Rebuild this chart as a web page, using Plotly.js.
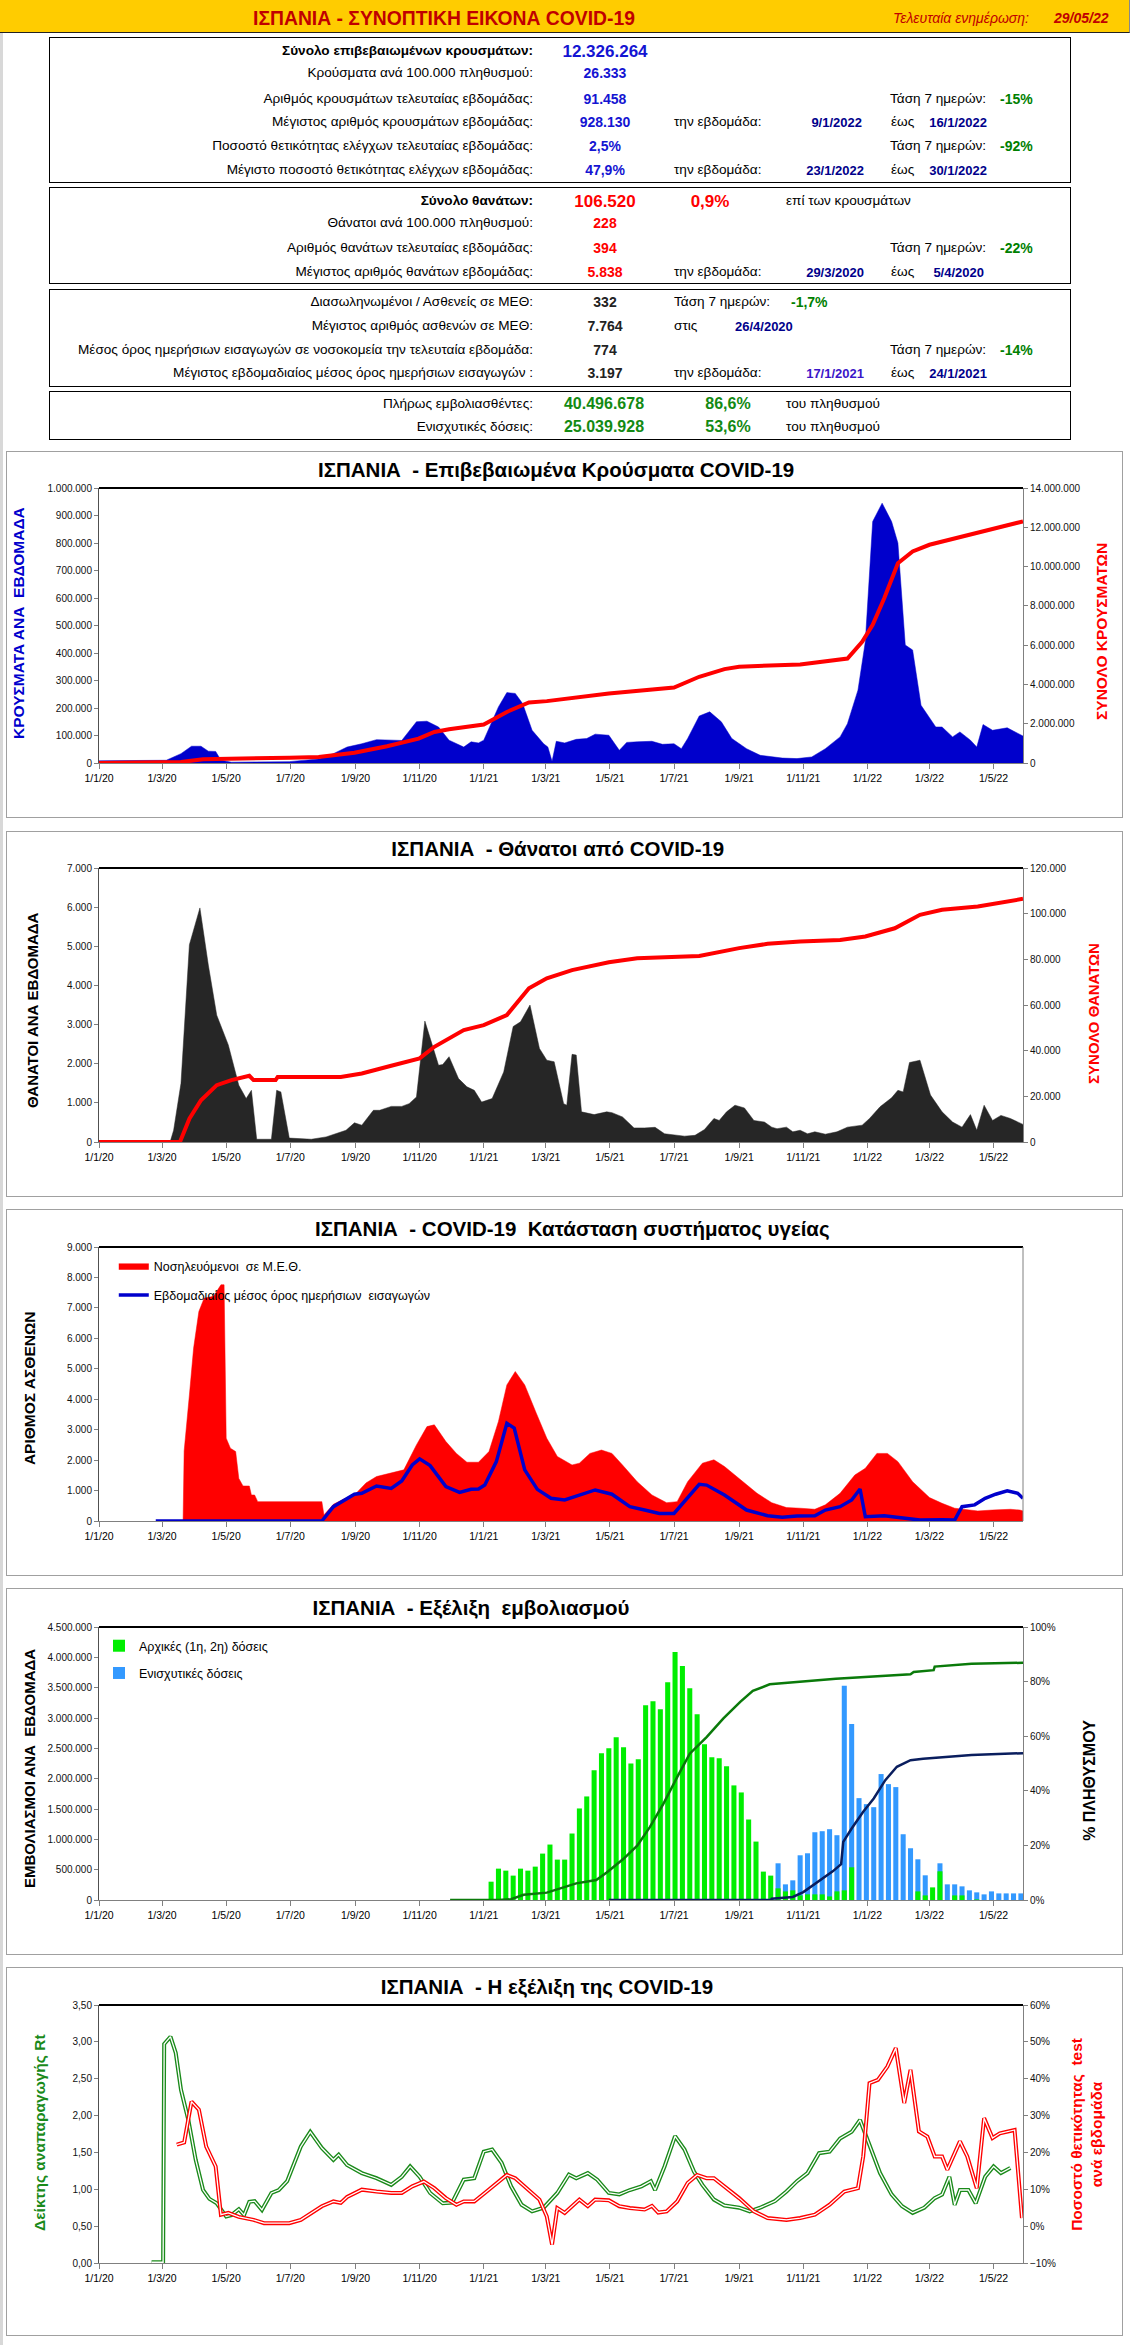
<!DOCTYPE html>
<html><head><meta charset="utf-8">
<script src="https://cdn.plot.ly/plotly-3.0.1.min.js"></script>
<style>
body{margin:0;width:1133px;height:2345px;background:#fff;position:relative;overflow:hidden;font-family:'Liberation Sans',Arial,sans-serif;}
.box{position:absolute;left:49px;width:1022px;border:1.5px solid #000;box-sizing:border-box;}
.t{position:absolute;white-space:nowrap;font-size:13.6px;line-height:1;color:#000;}
</style></head>
<body>
<div style="position:absolute;left:0;top:0;width:3px;height:2345px;background:#d8d8d8;"></div>
<div style="position:absolute;left:0;top:0;width:1129px;height:32px;background:#FFCC00;border-bottom:1.5px solid #222;border-right:1.5px solid #888;"></div>
<div class="box" style="top:37px;height:146px;"></div>
<div class="box" style="top:187px;height:97px;"></div>
<div class="box" style="top:289px;height:98px;"></div>
<div class="box" style="top:391px;height:49px;"></div>
<script>
// ---------------- DATA ----------------
// Chart 1: weekly confirmed cases (area) and cumulative cases (line)
const casesWeekDates=['2020-01-01','2020-03-05','2020-03-19','2020-03-29','2020-04-07','2020-04-14','2020-04-21','2020-04-26','2020-05-06','2020-06-30','2020-07-28','2020-08-11','2020-08-24','2020-09-07','2020-09-21','2020-10-05','2020-10-15','2020-10-29','2020-11-08','2020-11-19','2020-11-29','2020-12-13','2020-12-20','2020-12-27','2021-01-01','2021-01-15','2021-01-23','2021-01-31','2021-02-07','2021-02-16','2021-02-27','2021-03-03','2021-03-07','2021-03-11','2021-03-19','2021-03-30','2021-04-09','2021-04-17','2021-04-30','2021-05-10','2021-05-17','2021-05-27','2021-06-10','2021-06-20','2021-07-01','2021-07-08','2021-07-14','2021-07-25','2021-08-04','2021-08-15','2021-08-25','2021-09-08','2021-09-21','2021-10-12','2021-10-26','2021-11-09','2021-11-22','2021-12-06','2021-12-13','2021-12-23','2021-12-30','2022-01-06','2022-01-15','2022-01-24','2022-01-30','2022-02-06','2022-02-13','2022-02-21','2022-03-01','2022-03-07','2022-03-13','2022-03-23','2022-03-30','2022-04-09','2022-04-15','2022-04-21','2022-04-30','2022-05-14','2022-05-29'];
const casesWeek=[8000,10000,34000,61000,61000,43000,42000,10000,3000,5000,15000,34000,58000,70000,85000,82000,82000,150000,152000,131000,83000,58000,77000,73000,83000,204000,256000,253000,216000,119000,70000,58000,6000,79000,73000,86000,89000,105000,101000,46000,75000,77000,79000,68000,70000,52000,89000,171000,186000,150000,89000,52000,28000,18000,16000,22000,52000,95000,143000,265000,441000,878000,945000,878000,800000,429000,411000,210000,162000,131000,131000,95000,113000,83000,58000,140000,119000,128000,98000];
const casesTotalDates=['2020-01-01','2020-03-12','2020-03-19','2020-04-09','2020-04-29','2020-06-30','2020-07-28','2020-08-31','2020-10-01','2020-10-31','2020-11-15','2020-11-29','2021-01-01','2021-01-23','2021-02-13','2021-03-02','2021-04-30','2021-07-01','2021-07-25','2021-08-18','2021-09-01','2021-10-29','2021-12-13','2021-12-27','2022-01-06','2022-01-17','2022-01-30','2022-02-13','2022-03-01','2022-04-02','2022-04-30','2022-05-29'];
const casesTotal=[0,5000,50000,190000,221000,272000,306000,527000,850000,1240000,1580000,1720000,1960000,2600000,3080000,3150000,3540000,3840000,4390000,4780000,4900000,5020000,5320000,6170000,7030000,8390000,10170000,10770000,11110000,11530000,11870000,12300000];

// Chart 2: weekly deaths (area) and cumulative deaths (line)
const deathsWeekDates=['2020-01-01','2020-03-09','2020-03-12','2020-03-19','2020-03-27','2020-04-06','2020-04-14','2020-04-22','2020-05-03','2020-05-13','2020-05-20','2020-05-25','2020-05-30','2020-06-13','2020-06-18','2020-06-22','2020-06-30','2020-07-21','2020-08-04','2020-08-14','2020-08-23','2020-08-31','2020-09-07','2020-09-18','2020-09-24','2020-10-05','2020-10-15','2020-10-22','2020-10-29','2020-11-06','2020-11-12','2020-11-19','2020-11-23','2020-11-29','2020-12-08','2020-12-16','2020-12-23','2020-12-30','2021-01-09','2021-01-20','2021-01-29','2021-02-05','2021-02-14','2021-02-23','2021-03-02','2021-03-09','2021-03-18','2021-03-21','2021-03-26','2021-03-30','2021-04-04','2021-04-16','2021-04-28','2021-05-03','2021-05-13','2021-05-24','2021-06-03','2021-06-13','2021-06-22','2021-07-01','2021-07-11','2021-07-21','2021-07-30','2021-08-08','2021-08-13','2021-08-20','2021-08-28','2021-09-06','2021-09-15','2021-09-25','2021-10-02','2021-10-07','2021-10-16','2021-10-22','2021-10-29','2021-11-05','2021-11-12','2021-11-22','2021-12-03','2021-12-13','2021-12-27','2022-01-03','2022-01-13','2022-01-24','2022-01-30','2022-02-04','2022-02-10','2022-02-20','2022-03-02','2022-03-13','2022-03-23','2022-04-01','2022-04-09','2022-04-15','2022-04-22','2022-04-30','2022-05-08','2022-05-17','2022-05-29'];
const deathsWeek=[30,30,300,1500,5040,5980,4520,3240,2480,1450,1110,1320,70,70,1320,1280,100,70,130,210,300,490,430,810,810,910,910,980,1150,3090,2560,1960,1980,2180,1620,1410,1320,1020,1110,1790,2950,3070,3500,2390,2090,2050,980,940,2240,2220,770,700,770,750,640,360,360,375,210,190,150,170,320,600,550,770,940,870,550,510,380,340,380,260,300,210,260,200,260,380,430,600,900,1130,1320,1280,2030,2090,1200,770,510,380,700,300,940,550,680,600,450];
const deathsTotalDates=['2020-01-01','2020-03-18','2020-03-27','2020-04-07','2020-04-22','2020-05-06','2020-05-23','2020-05-27','2020-06-17','2020-06-19','2020-08-18','2020-09-07','2020-10-05','2020-11-01','2020-11-15','2020-12-13','2021-01-01','2021-01-23','2021-02-13','2021-03-02','2021-03-26','2021-04-30','2021-05-27','2021-07-01','2021-07-25','2021-09-01','2021-09-28','2021-10-29','2021-12-06','2021-12-30','2022-01-27','2022-02-20','2022-03-13','2022-04-16','2022-05-29'];
const deathsTotal=[0,0,10200,18300,24900,27100,29000,27100,27100,28500,28500,30000,33400,36600,41700,49000,51200,55600,67300,71700,75300,78700,80500,81000,81500,84900,86800,87800,88500,90000,93600,99500,101700,103100,106500];

// Chart 3: ICU patients (red) and weekly avg of daily admissions (blue)
const icuDates=['2020-03-21','2020-03-22','2020-03-27','2020-03-31','2020-04-05','2020-04-10','2020-04-19','2020-04-26','2020-04-29','2020-05-01','2020-05-05','2020-05-10','2020-05-13','2020-05-17','2020-05-23','2020-05-25','2020-05-28','2020-05-31','2020-07-31','2020-08-02','2020-08-11','2020-08-21','2020-08-31','2020-09-11','2020-09-21','2020-10-08','2020-10-17','2020-10-29','2020-11-08','2020-11-15','2020-11-26','2020-12-06','2020-12-16','2020-12-27','2021-01-06','2021-01-15','2021-01-23','2021-01-31','2021-02-09','2021-02-20','2021-03-02','2021-03-12','2021-03-26','2021-04-02','2021-04-12','2021-04-23','2021-05-03','2021-05-13','2021-05-27','2021-06-10','2021-06-24','2021-07-04','2021-07-14','2021-07-28','2021-08-08','2021-08-18','2021-09-01','2021-09-18','2021-10-02','2021-10-16','2021-10-29','2021-11-12','2021-11-22','2021-12-06','2021-12-20','2021-12-30','2022-01-10','2022-01-20','2022-01-30','2022-02-13','2022-03-01','2022-03-13','2022-03-25','2022-04-06','2022-04-16','2022-04-30','2022-05-17','2022-05-26','2022-05-29'];
const icuPatients=[0,2300,4140,5680,6880,7320,7380,7760,7760,2720,2390,2280,1400,1150,1150,855,855,636,636,200,550,720,855,1250,1460,1590,1680,2500,3100,3160,2610,2220,1930,1930,2280,3270,4470,4910,4470,3540,2720,2120,1840,1900,2220,2330,2220,1840,1290,855,600,636,1290,1900,2010,1790,1400,910,600,440,420,385,530,910,1510,1730,2220,2220,1950,1290,770,580,420,360,330,360,385,360,332];
const admDates=['2020-02-24','2020-07-31','2020-08-11','2020-08-21','2020-08-31','2020-09-07','2020-09-21','2020-10-05','2020-10-15','2020-10-25','2020-11-01','2020-11-11','2020-11-26','2020-12-09','2020-12-20','2020-12-27','2021-01-02','2021-01-13','2021-01-23','2021-01-30','2021-02-09','2021-02-21','2021-03-06','2021-03-19','2021-04-02','2021-04-17','2021-05-03','2021-05-20','2021-06-03','2021-06-17','2021-07-01','2021-07-11','2021-07-25','2021-08-01','2021-08-18','2021-09-08','2021-09-28','2021-10-12','2021-10-26','2021-11-12','2021-11-22','2021-12-06','2021-12-17','2021-12-25','2021-12-30','2022-01-17','2022-02-06','2022-02-20','2022-03-13','2022-03-25','2022-04-01','2022-04-13','2022-04-23','2022-05-03','2022-05-14','2022-05-24','2022-05-29'];
const admAvg=[0,0,470,690,880,910,1150,1070,1315,1840,2040,1820,1130,940,1040,1050,1180,1950,3210,3050,1680,1040,745,690,855,1020,880,470,360,250,250,636,1205,1180,855,360,175,120,165,175,360,470,690,1050,140,175,90,30,40,30,470,530,745,880,990,910,745];

// Chart 4: weekly vaccinations (initial / booster) and cumulative % of population
const vaxWeeks=['2021-01-08','2021-01-15','2021-01-22','2021-01-29','2021-02-05','2021-02-12','2021-02-19','2021-02-26','2021-03-05','2021-03-12','2021-03-19','2021-03-26','2021-04-02','2021-04-09','2021-04-16','2021-04-23','2021-04-30','2021-05-07','2021-05-14','2021-05-21','2021-05-28','2021-06-04','2021-06-11','2021-06-18','2021-06-25','2021-07-02','2021-07-09','2021-07-16','2021-07-23','2021-07-30','2021-08-06','2021-08-13','2021-08-20','2021-08-27','2021-09-03','2021-09-10','2021-09-17','2021-09-24','2021-10-01','2021-10-08','2021-10-15','2021-10-22','2021-10-29','2021-11-05','2021-11-12','2021-11-19','2021-11-26','2021-12-03','2021-12-10','2021-12-17','2021-12-24','2021-12-31','2022-01-07','2022-01-14','2022-01-21','2022-01-28','2022-02-04','2022-02-11','2022-02-18','2022-02-25','2022-03-04','2022-03-11','2022-03-18','2022-03-25','2022-04-01','2022-04-08','2022-04-15','2022-04-22','2022-04-29','2022-05-06','2022-05-13','2022-05-20','2022-05-27'];
const vaxInitial=[302000,517000,484000,402000,517000,484000,550000,765000,914000,666000,666000,1096000,1509000,1707000,2137000,2418000,2500000,2682000,2517000,2252000,2319000,3211000,3277000,3145000,3591000,4087000,3856000,3492000,3062000,2566000,2352000,2335000,2203000,1889000,1773000,1327000,963000,468000,402000,192000,142000,159000,76000,93000,93000,93000,59000,142000,159000,539000,0,0,0,0,0,0,0,0,142000,76000,208000,473000,0,76000,76000,0,10000,0,0,0,0,0,0];
const vaxBooster=[0,0,0,0,0,0,0,0,0,0,0,0,0,0,0,0,0,0,0,0,0,0,0,0,0,0,0,0,0,0,0,0,0,0,0,0,0,0,0,605000,258000,324000,737000,770000,1117000,1134000,1167000,1068000,3530000,2902000,1679000,1580000,1530000,2076000,1910000,1861000,1084000,853000,671000,407000,0,605000,258000,258000,225000,159000,126000,93000,142000,109000,109000,109000,109000];
const fullPctDates=['2020-11-30','2021-01-15','2021-01-27','2021-02-08','2021-03-02','2021-03-17','2021-03-30','2021-04-18','2021-04-28','2021-05-14','2021-05-27','2021-06-08','2021-06-21','2021-07-04','2021-07-16','2021-08-01','2021-08-17','2021-09-02','2021-09-14','2021-09-30','2021-10-10','2021-12-02','2022-02-11','2022-02-14','2022-03-05','2022-03-06','2022-04-10','2022-05-29'];
const fullPct=[0,0,0.3,1.9,2.7,4.4,6.1,7.3,10.1,15.1,19.9,26.7,35.3,45.0,53.6,59.7,66.5,72.6,76.6,79.0,79.3,81.0,82.7,83.5,84.2,85.5,86.5,86.9];
const boostPctDates=['2021-04-30','2021-10-01','2021-10-02','2021-10-22','2021-11-01','2021-11-17','2021-11-29','2021-12-07','2021-12-09','2021-12-17','2021-12-28','2022-01-07','2022-01-18','2022-01-29','2022-02-11','2022-02-23','2022-04-10','2022-05-29'];
const boostPct=[0,0,0.5,1.1,2.9,7.2,10.5,13.1,21.3,26.2,32.3,37.2,43.9,48.8,51.2,51.7,53.1,53.8];

// Chart 5: reproduction number Rt and weekly test positivity %
const rtDates=['2020-02-20','2020-03-02','2020-03-03','2020-03-09','2020-03-14','2020-03-19','2020-03-26','2020-04-02','2020-04-09','2020-04-15','2020-04-22','2020-05-01','2020-05-06','2020-05-13','2020-05-18','2020-05-23','2020-05-28','2020-06-04','2020-06-13','2020-06-20','2020-06-28','2020-07-04','2020-07-11','2020-07-20','2020-07-26','2020-07-31','2020-08-11','2020-08-16','2020-08-24','2020-09-07','2020-09-21','2020-10-05','2020-10-15','2020-10-23','2020-11-01','2020-11-11','2020-11-23','2020-12-02','2020-12-13','2020-12-23','2021-01-01','2021-01-09','2021-01-18','2021-01-27','2021-02-06','2021-02-16','2021-02-27','2021-03-12','2021-03-23','2021-03-30','2021-04-10','2021-04-19','2021-04-30','2021-05-10','2021-05-20','2021-05-31','2021-06-09','2021-06-13','2021-06-22','2021-07-02','2021-07-11','2021-07-20','2021-07-28','2021-08-08','2021-08-18','2021-09-01','2021-09-11','2021-09-21','2021-10-05','2021-10-16','2021-10-26','2021-11-05','2021-11-16','2021-11-26','2021-12-06','2021-12-17','2021-12-25','2022-01-03','2022-01-13','2022-01-24','2022-02-03','2022-02-13','2022-02-24','2022-03-06','2022-03-13','2022-03-20','2022-03-25','2022-03-30','2022-04-07','2022-04-14','2022-04-23','2022-05-01','2022-05-08','2022-05-17'];
const rtValues=[0.01,0.01,2.97,3.07,2.85,2.35,1.94,1.40,0.99,0.87,0.81,0.63,0.65,0.73,0.65,0.83,0.84,0.72,0.95,0.99,1.11,1.33,1.58,1.78,1.65,1.56,1.40,1.47,1.33,1.22,1.15,1.06,1.17,1.31,1.17,0.95,0.81,0.82,1.13,1.15,1.51,1.54,1.36,1.04,0.79,0.70,0.75,0.95,1.20,1.15,1.22,1.13,0.95,0.93,0.99,1.04,1.11,0.99,1.31,1.72,1.54,1.24,1.06,0.86,0.78,0.75,0.70,0.75,0.84,0.97,1.11,1.22,1.49,1.51,1.69,1.78,1.94,1.60,1.22,0.93,0.77,0.68,0.75,0.88,0.93,1.17,0.79,0.99,0.99,0.81,1.17,1.31,1.22,1.29];
const posDates=['2020-03-15','2020-03-22','2020-03-29','2020-04-05','2020-04-12','2020-04-21','2020-04-26','2020-05-03','2020-05-13','2020-05-27','2020-06-06','2020-06-30','2020-07-11','2020-07-21','2020-07-31','2020-08-11','2020-08-18','2020-08-24','2020-09-07','2020-09-21','2020-10-05','2020-10-15','2020-10-25','2020-11-05','2020-11-15','2020-11-26','2020-12-06','2020-12-13','2020-12-23','2021-01-02','2021-01-13','2021-01-23','2021-01-31','2021-02-09','2021-02-16','2021-02-23','2021-03-02','2021-03-07','2021-03-12','2021-03-19','2021-04-02','2021-04-10','2021-04-17','2021-04-30','2021-05-10','2021-05-20','2021-06-03','2021-06-10','2021-06-16','2021-06-24','2021-07-04','2021-07-14','2021-07-23','2021-08-01','2021-08-08','2021-08-18','2021-09-01','2021-09-15','2021-09-28','2021-10-16','2021-10-29','2021-11-12','2021-11-26','2021-12-10','2021-12-23','2021-12-28','2022-01-03','2022-01-11','2022-01-20','2022-01-28','2022-02-05','2022-02-11','2022-02-19','2022-02-27','2022-03-06','2022-03-13','2022-03-18','2022-03-30','2022-04-06','2022-04-15','2022-04-22','2022-04-30','2022-05-07','2022-05-21','2022-05-28'];
const posPct=[22.1,22.7,33.8,31.6,21.6,16.2,3.1,3.6,2.5,1.7,0.8,0.8,1.7,3.6,5.4,6.7,6.3,7.9,9.9,9.4,9.0,9.0,10.8,12.1,10.3,7.6,5.8,6.7,6.7,9.0,11.7,13.9,13.0,10.8,9.0,7.2,2.6,-5.0,4.9,3.6,7.2,5.4,7.2,7.0,5.4,4.9,4.5,5.5,3.7,4.0,6.7,11.7,13.9,13.0,13.0,10.8,7.6,4.0,2.2,1.7,2.2,3.1,5.8,9.4,10.3,18.9,38.8,39.7,43.3,48.3,33.4,42.4,25.7,24.3,18.9,18.9,15.3,23.0,18.9,10.3,29.3,23.9,25.2,26.1,2.2];

// ---------------- HEADER TEXT ----------------
function T(x,y,txt,al,st,sx){
  const s=document.createElement('div');
  s.className='t'; s.textContent=txt;
  if(st) s.style.cssText=st;
  s.style.top=y+'px';
  const sc=sx?' scaleX('+sx+')':'';
  if(al==='r'){s.style.right=(1133-x)+'px';s.style.transform='translateY(-50%)'+sc;s.style.transformOrigin='right center';}
  else if(al==='c'){s.style.left=x+'px';s.style.transform='translate(-50%,-50%)'+sc;}
  else {s.style.left=x+'px';s.style.transform='translateY(-50%)'+sc;s.style.transformOrigin='left center';}
  document.body.appendChild(s);
}
T(444,17,'ΙΣΠΑΝΙΑ - ΣΥΝΟΠΤΙΚΗ ΕΙΚΟΝΑ COVID-19','c','font-weight:bold;font-size:21px;color:#C00000;',0.92);
T(893,18,'Τελευταία ενημέρωση:','l','font-style:italic;font-size:14px;color:#C00000;');
T(1054,18,'29/05/22','l','font-style:italic;font-weight:bold;font-size:14px;color:#C00000;');
const BL='font-weight:bold;font-size:14px;color:#1414d2;';
const NV='font-weight:bold;font-size:13px;color:#00008b;';
const GR='font-weight:bold;font-size:14px;color:#008000;';
const RD='font-weight:bold;font-size:14px;color:#ff0000;';
const DK='font-weight:bold;font-size:14px;color:#222;';
const BOLD='font-weight:bold;';
// box 1
T(533,51,'Σύνολο επιβεβαιωμένων κρουσμάτων:','r',BOLD);
T(605,51,'12.326.264','c','font-weight:bold;font-size:17px;color:#1414d2;');
T(533,73,'Κρούσματα ανά 100.000 πληθυσμού:','r');
T(605,73,'26.333','c',BL);
T(533,99,'Αριθμός κρουσμάτων τελευταίας εβδομάδας:','r');
T(605,99,'91.458','c',BL);
T(890,99,'Τάση 7 ημερών:','l');
T(1000,99,'-15%','l',GR);
T(533,122,'Μέγιστος αριθμός κρουσμάτων εβδομάδας:','r');
T(605,122,'928.130','c',BL);
T(674,122,'την εβδομάδα:','l');
T(862,122,'9/1/2022','r',NV);
T(891,122,'έως','l');
T(987,122,'16/1/2022','r',NV);
T(533,146,'Ποσοστό θετικότητας ελέγχων τελευταίας εβδομάδας:','r');
T(605,146,'2,5%','c',BL);
T(890,146,'Τάση 7 ημερών:','l');
T(1000,146,'-92%','l',GR);
T(533,170,'Μέγιστο ποσοστό θετικότητας ελέγχων  εβδομάδας:','r');
T(605,170,'47,9%','c',BL);
T(674,170,'την εβδομάδα:','l');
T(864,170,'23/1/2022','r',NV);
T(891,170,'έως','l');
T(987,170,'30/1/2022','r',NV);
// box 2
T(533,201,'Σύνολο θανάτων:','r',BOLD);
T(605,201,'106.520','c','font-weight:bold;font-size:17px;color:#ff0000;');
T(710,201,'0,9%','c','font-weight:bold;font-size:17px;color:#ff0000;');
T(786,201,'επί των κρουσμάτων','l');
T(533,223,'Θάνατοι ανά 100.000 πληθυσμού:','r');
T(605,223,'228','c',RD);
T(533,248,'Αριθμός θανάτων τελευταίας εβδομάδας:','r');
T(605,248,'394','c',RD);
T(890,248,'Τάση 7 ημερών:','l');
T(1000,248,'-22%','l',GR);
T(533,272,'Μέγιστος αριθμός θανάτων εβδομάδας:','r');
T(605,272,'5.838','c',RD);
T(674,272,'την εβδομάδα:','l');
T(864,272,'29/3/2020','r',NV);
T(891,272,'έως','l');
T(984,272,'5/4/2020','r',NV);
// box 3
T(533,302,'Διασωληνωμένοι / Ασθενείς σε ΜΕΘ:','r');
T(605,302,'332','c',DK);
T(674,302,'Τάση 7 ημερών:','l');
T(791,302,'-1,7%','l',GR);
T(533,326,'Μέγιστος αριθμός ασθενών σε ΜΕΘ:','r');
T(605,326,'7.764','c',DK);
T(674,326,'στις','l');
T(735,326,'26/4/2020','l',NV);
T(533,350,'Μέσος όρος ημερήσιων εισαγωγών σε νοσοκομεία την τελευταία εβδομάδα:','r');
T(605,350,'774','c',DK);
T(890,350,'Τάση 7 ημερών:','l');
T(1000,350,'-14%','l',GR);
T(533,373,'Μέγιστος εβδομαδιαίος μέσος όρος ημερήσιων εισαγωγών :','r');
T(605,373,'3.197','c',DK);
T(674,373,'την εβδομάδα:','l');
T(864,373,'17/1/2021','r','font-weight:bold;font-size:13px;color:#3a16c8;');
T(891,373,'έως','l');
T(987,373,'24/1/2021','r',NV);
// box 4
T(533,404,'Πλήρως εμβολιασθέντες:','r');
T(604,404,'40.496.678','c','font-weight:bold;font-size:16px;color:#138a13;');
T(728,404,'86,6%','c','font-weight:bold;font-size:16px;color:#138a13;');
T(786,404,'του πληθυσμού','l');
T(533,427,'Ενισχυτικές δόσεις:','r');
T(604,427,'25.039.928','c','font-weight:bold;font-size:16px;color:#138a13;');
T(728,427,'53,6%','c','font-weight:bold;font-size:16px;color:#138a13;');
T(786,427,'του πληθυσμού','l');

// ---------------- CHARTS ----------------
const BASEF='Liberation Sans, Arial, sans-serif';
function xAxis(){
  return {type:'date',range:['2020-01-01','2022-05-29'],tick0:'2020-01-01',dtick:'M2',tickformat:'%-d/%-m/%y',
    ticks:'outside',ticklen:5,tickcolor:'#808080',showline:true,linecolor:'#808080',linewidth:1,
    showgrid:false,zeroline:false,tickfont:{size:10.5,color:'#000'}};
}
function yAxis(r,dt,fmt,extra){
  return Object.assign({range:r,dtick:dt,tickformat:fmt,ticks:'outside',ticklen:4,tickcolor:'#808080',
    showline:true,linecolor:'#505050',linewidth:1,showgrid:false,zeroline:false,tickfont:{size:10,color:'#111'}},extra||{});
}
function axTitle(text,x,y,color,size){
  return {text:'<b>'+text+'</b>',xref:'paper',yref:'paper',x:x,y:y,xanchor:'center',yanchor:'middle',textangle:-90,showarrow:false,
    font:{family:BASEF,size:size||15.5,color:color}};
}
function chart(top,H,mt,mb,title,tx,ty,traces,ya,ya2,annots,legend,rightLine){
  const div=document.createElement('div');
  div.style.cssText='position:absolute;left:6px;top:'+top+'px;width:1117px;height:'+H+'px;';
  document.body.appendChild(div);
  const brd=document.createElement('div');
  brd.style.cssText='position:absolute;left:6px;top:'+top+'px;width:1117px;height:'+H+'px;border:1.5px solid #a0a0a0;box-sizing:border-box;pointer-events:none;';
  document.body.appendChild(brd);
  const shapes=[{type:'line',xref:'paper',yref:'paper',x0:0,x1:1,y0:1,y1:1,line:{color:'#000',width:2}}];
  if(rightLine) shapes.push({type:'line',xref:'paper',yref:'paper',x0:1,x1:1,y0:0,y1:1,line:{color:'#808080',width:1}});
  const layout={width:1117,height:H,margin:{l:93,r:100,t:mt,b:mb,pad:0},paper_bgcolor:'#fff',plot_bgcolor:'#fff',
    separators:',.',font:{family:BASEF,size:10,color:'#000'},
    title:{text:'<b>'+title+'</b>',x:tx,xanchor:'center',y:ty,yanchor:'middle',font:{family:BASEF,size:20.5,color:'#000'}},
    xaxis:xAxis(),yaxis:ya,annotations:annots,shapes:shapes,showlegend:!!legend,barmode:'overlay'};
  if(legend) layout.legend=legend;
  if(ya2) layout.yaxis2=ya2;
  Plotly.newPlot(div,traces,layout,{staticPlot:true,displayModeBar:false});
}
const NB='\u00a0';

// Chart 1
chart(451,367,37,55,'ΙΣΠΑΝΙΑ'+NB+NB+'- Επιβεβαιωμένα Κρούσματα COVID-19',0.4925,0.948,
 [{x:casesWeekDates,y:casesWeek,type:'scatter',mode:'lines',fill:'tozeroy',fillcolor:'#0000CC',line:{color:'#0000CC',width:0.5}},
  {x:casesTotalDates,y:casesTotal,type:'scatter',mode:'lines',yaxis:'y2',line:{color:'#FF0000',width:4}}],
 yAxis([0,1000000],100000,',d'),
 yAxis([0,14000000],2000000,',d',{overlaying:'y',side:'right',linecolor:'#808080'}),
 [axTitle('ΚΡΟΥΣΜΑΤΑ ΑΝΑ'+NB+NB+'ΕΒΔΟΜΑΔΑ',-0.0877,0.509,'#0000CC',15.5),
  axTitle('ΣΥΝΟΛΟ ΚΡΟΥΣΜΑΤΩΝ',1.0844,0.48,'#FF0000',15.5)]);

// Chart 2
chart(831,366,37,55,'ΙΣΠΑΝΙΑ'+NB+NB+'- Θάνατοι από COVID-19',0.494,0.951,
 [{x:deathsWeekDates,y:deathsWeek,type:'scatter',mode:'lines',fill:'tozeroy',fillcolor:'#262626',line:{color:'#262626',width:0.5}},
  {x:deathsTotalDates,y:deathsTotal,type:'scatter',mode:'lines',yaxis:'y2',line:{color:'#FF0000',width:4}}],
 yAxis([0,7000],1000,',d'),
 yAxis([0,120000],20000,',d',{overlaying:'y',side:'right',linecolor:'#808080'}),
 [axTitle('ΘΑΝΑΤΟΙ ΑΝΑ ΕΒΔΟΜΑΔΑ',-0.0714,0.482,'#000',15),
  axTitle('ΣΥΝΟΛΟ ΘΑΝΑΤΩΝ',1.0768,0.471,'#FF0000',15)]);

// Chart 3
chart(1209,367,38,55,'ΙΣΠΑΝΙΑ'+NB+NB+'- COVID-19'+NB+NB+'Κατάσταση συστήματος υγείας',0.507,0.9455,
 [{x:icuDates,y:icuPatients,type:'scatter',mode:'lines',fill:'tozeroy',fillcolor:'#FF0000',line:{color:'#FF0000',width:0.5},
   name:'Νοσηλευόμενοι'+NB+NB+'σε Μ.Ε.Θ.',legendgroup:'a'},
  {x:admDates,y:admAvg,type:'scatter',mode:'lines',line:{color:'#0000CC',width:3.5},
   name:'Εβδομαδιαίος μέσος όρος ημερήσιων'+NB+NB+'εισαγωγών',legendgroup:'b'}],
 yAxis([0,9000],1000,',d'),null,
 [axTitle('ΑΡΙΘΜΟΣ ΑΣΘΕΝΩΝ',-0.0758,0.485,'#000',15.5)],
 {x:0.016,y:0.985,xanchor:'left',yanchor:'top',bgcolor:'rgba(0,0,0,0)',font:{size:12.5,color:'#000'},
  traceorder:'grouped',tracegroupgap:10,itemwidth:30},true);

// Chart 4
chart(1588,367,39,55,'ΙΣΠΑΝΙΑ'+NB+NB+'- Εξέλιξη'+NB+NB+'εμβολιασμού',0.4163,0.9455,
 [{x:vaxWeeks,y:vaxBooster,type:'bar',marker:{color:'#3399FF'},width:4.8*86400000,name:'Ενισχυτικές δόσεις',legendgroup:'b',legendrank:2},
  {x:vaxWeeks,y:vaxInitial,type:'bar',marker:{color:'#00EE00'},width:4.8*86400000,name:'Αρχικές (1η, 2η) δόσεις',legendgroup:'a',legendrank:1},
  {x:fullPctDates,y:fullPct,type:'scatter',mode:'lines',yaxis:'y2',line:{color:'#0A7A0A',width:2.5},showlegend:false},
  {x:boostPctDates,y:boostPct,type:'scatter',mode:'lines',yaxis:'y2',line:{color:'#0A1E5E',width:2.5},showlegend:false}],
 yAxis([0,4500000],500000,',d'),
 yAxis([0,100],20,'d',{overlaying:'y',side:'right',ticksuffix:'%',linecolor:'#808080'}),
 [axTitle('ΕΜΒΟΛΙΑΣΜΟΙ ΑΝΑ'+NB+NB+'ΕΒΔΟΜΑΔΑ',-0.0758,0.483,'#000',15),
  axTitle('% ΠΛΗΘΥΣΜΟΥ',1.0725,0.44,'#000',16)],
 {x:0.0,y:0.985,xanchor:'left',yanchor:'top',bgcolor:'rgba(0,0,0,0)',font:{size:12.5,color:'#000'},
  traceorder:'grouped',tracegroupgap:8,itemwidth:30});

// Chart 5
chart(1967,369,38,73,'ΙΣΠΑΝΙΑ'+NB+NB+'- Η εξέλιξη της COVID-19',0.4843,0.9458,
 [{x:posDates,y:posPct,type:'scatter',mode:'lines',yaxis:'y2',line:{color:'#FF0000',width:4}},
  {x:posDates,y:posPct,type:'scatter',mode:'lines',yaxis:'y2',line:{color:'#FFFFFF',width:1.3}},
  {x:rtDates,y:rtValues,type:'scatter',mode:'lines',line:{color:'#1A8A1A',width:4}},
  {x:rtDates,y:rtValues,type:'scatter',mode:'lines',line:{color:'#FFFFFF',width:1.3}}],
 yAxis([0,3.5],0.5,'.2f'),
 yAxis([-10,60],10,'d',{overlaying:'y',side:'right',ticksuffix:'%',linecolor:'#808080'}),
 [axTitle('Δείκτης αναπαραγωγής Rt',-0.0639,0.504,'#1A8A1A',15.5),
  axTitle('Ποσοστό θετικότητας'+NB+NB+'test<br>ανά εβδομάδα',1.068,0.5,'#FF0000',15.5)]);
</script>
</body></html>
